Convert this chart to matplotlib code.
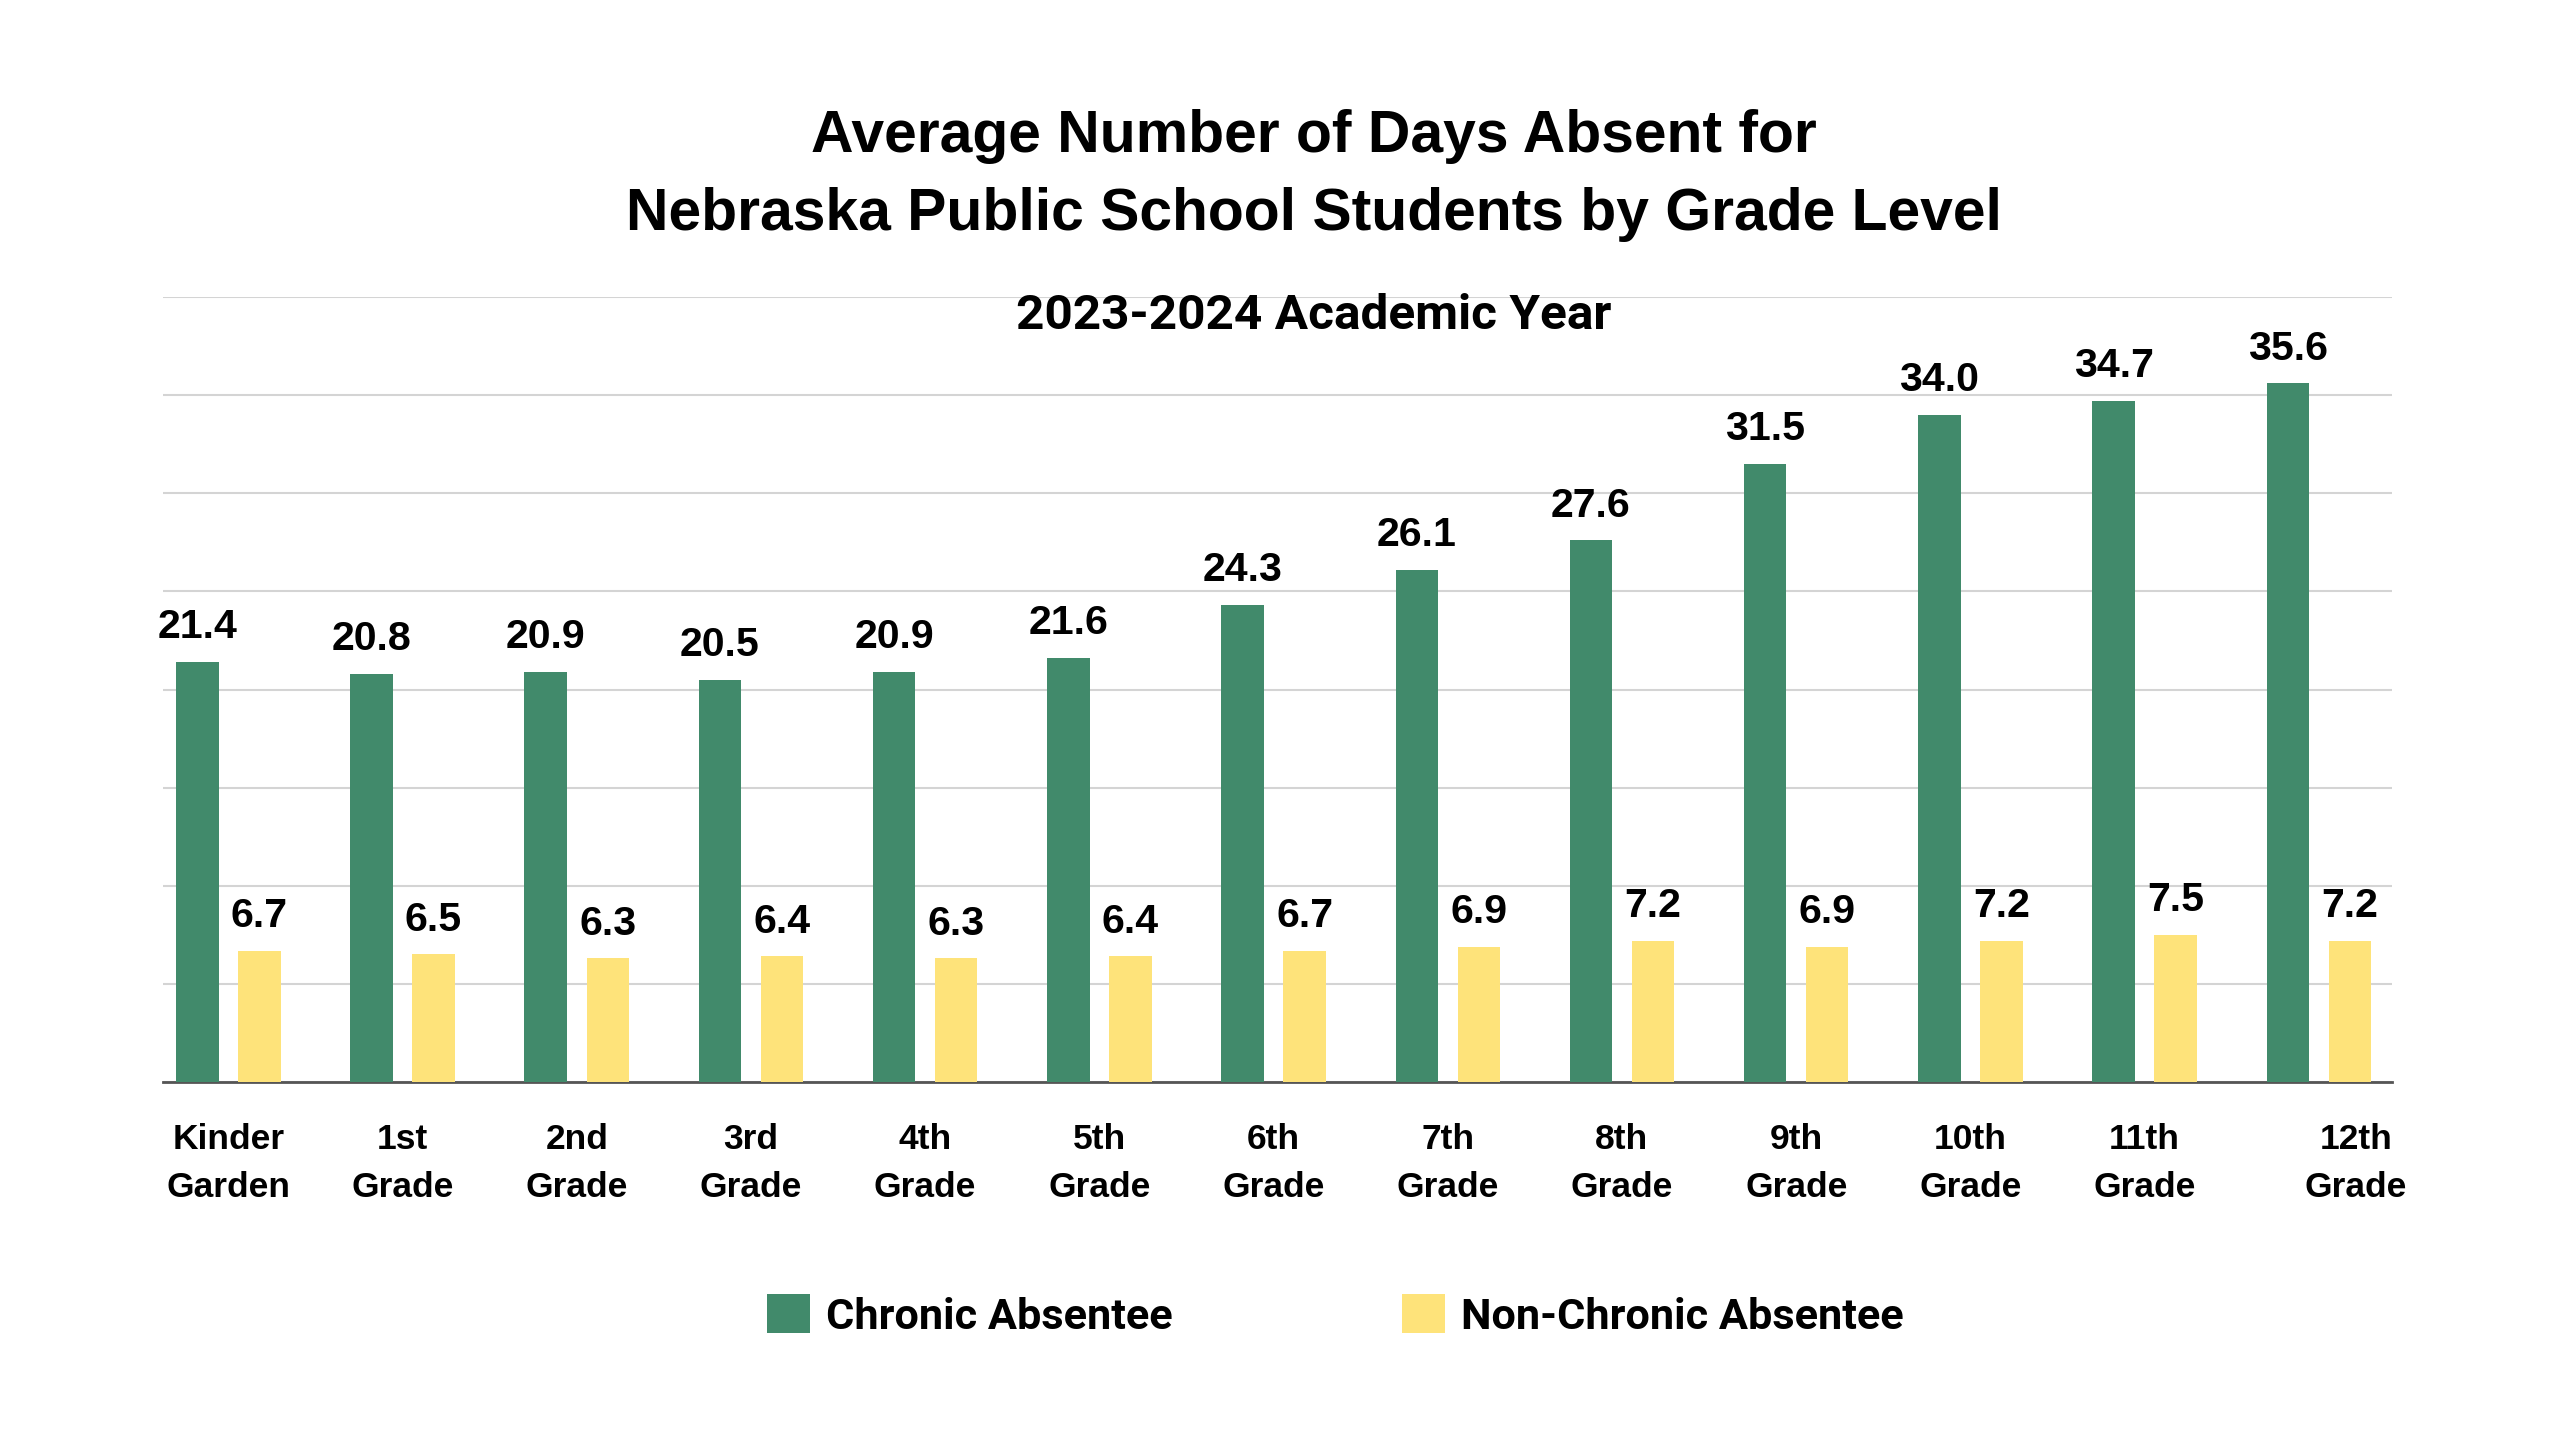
import matplotlib
matplotlib.use("Agg")
import matplotlib.pyplot as plt
import matplotlib.transforms as mtransforms
from matplotlib.patches import Patch
import numpy as np

# ---------------- data ----------------
grades = ["Kinder\nGarden", "1st\nGrade", "2nd\nGrade", "3rd\nGrade", "4th\nGrade",
          "5th\nGrade", "6th\nGrade", "7th\nGrade", "8th\nGrade", "9th\nGrade",
          "10th\nGrade", "11th\nGrade", "12th\nGrade"]
chronic = [21.4, 20.8, 20.9, 20.5, 20.9, 21.6, 24.3, 26.1, 27.6, 31.5, 34.0, 34.7, 35.6]
non_chronic = [6.7, 6.5, 6.3, 6.4, 6.3, 6.4, 6.7, 6.9, 7.2, 6.9, 7.2, 7.5, 7.2]
series_names = ["Chronic Absentee", "Non-Chronic Absentee"]
title_lines = ["Average Number of Days Absent for",
               "Nebraska Public School Students by Grade Level"]
subtitle = "2023-2024 Academic Year"

GREEN = "#418A6B"
YELLOW = "#FEE37A"
FONT = ["Liberation Sans", "DejaVu Sans"]
FONT2 = ["Roboto", "Liberation Sans", "DejaVu Sans"]

W, H = 2560, 1440
fig = plt.figure(figsize=(W / 100, H / 100), dpi=100)
fig.patch.set_facecolor("white")
renderer = fig.canvas.get_renderer()


def size_for(s, target_px, **kw):
    t = fig.text(0, 0, s, fontsize=20, **kw)
    w = t.get_window_extent(renderer=renderer).width
    t.remove()
    return 20 * target_px / w


def fx(px):
    return px / W


def fy(py):
    return 1 - py / H


# ---------------- axes ----------------
left, right, top, bottom = 163, 2392, 297, 1082
ax = fig.add_axes([fx(left), fy(bottom), (right - left) / W, (bottom - top) / H])
x = np.arange(len(grades))
bw = 0.244
off = 0.178
ax.bar(x - off, chronic, width=bw, color=GREEN, zorder=3)
ax.bar(x + off, non_chronic, width=bw, color=YELLOW, zorder=3)

ax.set_xlim(-0.375, 12.42)
ax.set_ylim(0, 40)
ax.set_yticks(np.arange(0, 41, 5))
ax.yaxis.grid(True, color="#d4d4d4", linewidth=1.5, zorder=0)
ax.set_axisbelow(True)
ax.tick_params(axis="y", left=False, labelleft=False)
for s in ["left", "right", "top"]:
    ax.spines[s].set_visible(False)
ax.spines["bottom"].set_color("#555555")
ax.spines["bottom"].set_linewidth(2)

# value labels
val_fs = size_for("21.4", 80, family=FONT, weight="bold")
for xi, v in zip(x, chronic):
    ax.annotate(f"{v:.1f}", (xi - off, v), xytext=(0, 25), textcoords="offset points",
                ha="center", va="center", fontsize=val_fs, fontweight="bold",
                family=FONT, color="black", zorder=4)
for xi, v in zip(x, non_chronic):
    ax.annotate(f"{v:.1f}", (xi + off, v), xytext=(0, 25), textcoords="offset points",
                ha="center", va="center", fontsize=val_fs, fontweight="bold",
                family=FONT, color="black", zorder=4)

# x tick labels
tick_fs = size_for("Garden", 124, family=FONT, weight="bold")
ax.set_xticks(x)
ax.set_xticklabels(grades, fontsize=tick_fs, fontweight="bold", family=FONT,
                   linespacing=1.58)
ax.tick_params(axis="x", bottom=False, pad=26)
last = ax.get_xticklabels()[-1]
last.set_transform(last.get_transform() +
                   mtransforms.ScaledTranslation(37 / 100, 0, fig.dpi_scale_trans))

# ---------------- titles ----------------
t_fs = size_for(title_lines[1], 1377, family=FONT, weight="bold")
fig.text(fx(1314), fy(137), title_lines[0], ha="center", va="center",
         fontsize=t_fs, fontweight="bold", family=FONT)
fig.text(fx(1314), fy(215), title_lines[1], ha="center", va="center",
         fontsize=t_fs, fontweight="bold", family=FONT)

s_fs = size_for(subtitle, 593, family=FONT2, weight="bold")
fig.text(fx(1314), fy(316), subtitle, ha="center", va="center",
         fontsize=s_fs, fontweight="bold", family=FONT2)

# ---------------- legend ----------------
leg_fs = size_for(series_names[0], 346, family=FONT2, weight="bold")
handles = [Patch(facecolor=GREEN), Patch(facecolor=YELLOW)]
fig.legend(handles, series_names, loc="center", bbox_to_anchor=(fx(1335), fy(1316)),
           ncol=2, frameon=False, handlelength=1.0, handleheight=1.0,
           handletextpad=0.36, columnspacing=5.3,
           prop={"family": FONT2, "weight": "bold", "size": leg_fs})

fig.savefig("out.png", dpi=100, facecolor="white")
